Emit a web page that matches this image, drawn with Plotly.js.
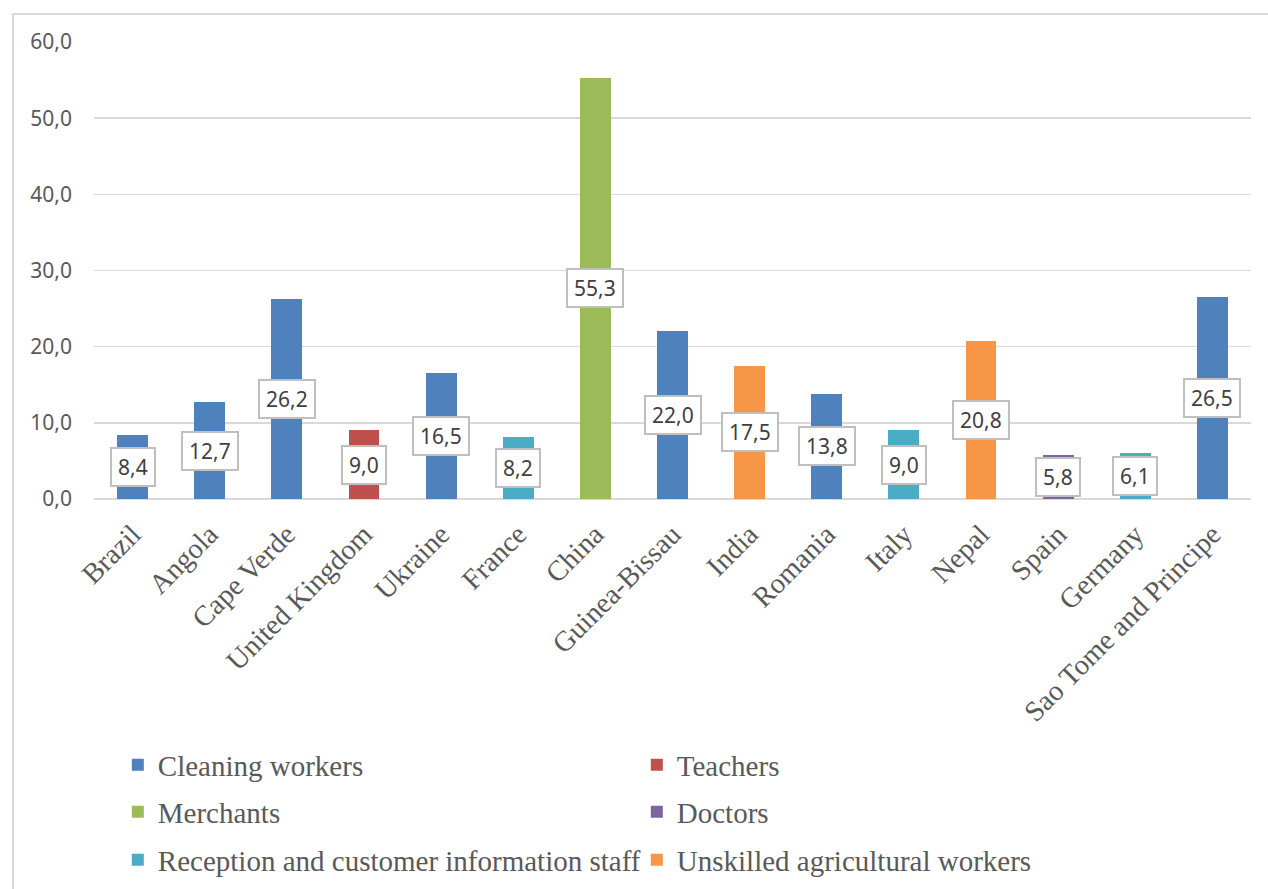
<!DOCTYPE html>
<html>
<head>
<meta charset="utf-8">
<script src="https://cdn.plot.ly/plotly-3.0.1.min.js"></script>
<style>
  html, body { margin: 0; padding: 0; background: #ffffff; }
  #wrap { position: relative; width: 1268px; height: 889px; overflow: hidden; }
  #frame { position: absolute; left: 12px; top: 13px; width: 1300px; height: 1000px;
           border: 2px solid #d9d9d9; box-sizing: border-box; pointer-events: none; }
  #chart { position: absolute; left: 0; top: 0; width: 1268px; height: 889px; }
</style>
</head>
<body>
<div id="wrap">
  <div id="chart"></div>
  <div id="frame"></div>
</div>
<script>
// ---- data ----
const countries = ["Brazil", "Angola", "Cape Verde", "United Kingdom", "Ukraine", "France", "China",
  "Guinea-Bissau", "India", "Romania", "Italy", "Nepal", "Spain", "Germany", "Sao Tome and Principe"];
const values = [8.4, 12.7, 26.2, 9.0, 16.5, 8.2, 55.3, 22.0, 17.5, 13.8, 9.0, 20.8, 5.8, 6.1, 26.5];
// occupation index of each country (into occupations)
const occupationOf = [0, 0, 0, 1, 0, 4, 2, 0, 5, 0, 4, 5, 3, 4, 0];
const occupations = ["Cleaning workers", "Teachers", "Merchants", "Doctors",
  "Reception and customer information staff", "Unskilled agricultural workers"];
const colors = ["#4f81bd", "#c0504d", "#9bbb59", "#8064a2", "#4bacc6", "#f79646"];
const yTicks = [0, 10, 20, 30, 40, 50, 60];

// ---- traces ----
const legendIds = ["legend", "legend", "legend2", "legend2", "legend3", "legend3"];
const traces = occupations.map((name, k) => ({
  type: "bar",
  name: name,
  x: countries,
  y: values.map((v, i) => occupationOf[i] === k ? v : null),
  marker: { color: colors[k] },
  legend: legendIds[k],
  hoverinfo: "skip"
}));

const fmt = v => "\u200A" + v.toFixed(1).replace(".", ",") + "\u200A";
const annotations = countries.map((c, i) => ({
  x: c, y: values[i] / 2, xref: "x", yref: "y",
  text: fmt(values[i]), showarrow: false,
  font: { family: "Noto Sans, Open Sans, sans-serif", size: 21, color: "#404040" },
  bgcolor: "#ffffff", bordercolor: "#bfbfbf", borderwidth: 2, borderpad: 4
}));

const legendBase = {
  orientation: "h", xanchor: "left", yanchor: "middle",
  entrywidth: 474, entrywidthmode: "pixels",
  font: { family: "Liberation Serif, Times New Roman, serif", size: 29, color: "#595959" },
  bgcolor: "rgba(0,0,0,0)", itemclick: false, itemdoubleclick: false,
  traceorder: "normal"
};
const plotH = 889 - 42 - 390;
const ly = py => (889 - 390 - py) / plotH; // pixel y -> paper y
const lx = px => (px - 94.2) / 1156.5;

const layout = {
  width: 1268, height: 889,
  margin: { l: 94.2, r: 17.3, t: 42, b: 390, autoexpand: false },
  paper_bgcolor: "rgba(0,0,0,0)", plot_bgcolor: "rgba(0,0,0,0)",
  barmode: "stack", bargap: 0.6,
  separators: ", ",
  showlegend: true,
  hovermode: false,
  font: { family: "Noto Sans, sans-serif", color: "#595959" },
  xaxis: {
    type: "category", categoryorder: "array", categoryarray: countries,
    tickangle: -45, showgrid: false, zeroline: false, showline: false, ticks: "",
    tickfont: { family: "Liberation Serif, Times New Roman, serif", size: 28.5, color: "#595959" },
    ticklabelstandoff: 12, automargin: false, fixedrange: true
  },
  yaxis: {
    range: [0, 60], tickvals: yTicks, tickformat: ".1f",
    showgrid: true, gridcolor: "#d9d9d9", gridwidth: 1.5,
    zeroline: true, zerolinecolor: "#d9d9d9", zerolinewidth: 1.5,
    showline: false, ticks: "",
    tickfont: { family: "Noto Sans, Open Sans, sans-serif", size: 21, color: "#595959" },
    ticklabelstandoff: 21, automargin: false, fixedrange: true
  },
  legend: Object.assign({}, legendBase, { x: lx(118), y: ly(765) }),
  legend2: Object.assign({}, legendBase, { x: lx(118), y: ly(812) }),
  legend3: Object.assign({}, legendBase, { x: lx(118), y: ly(860) }),
  annotations: annotations
};

Plotly.newPlot("chart", traces, layout, { displayModeBar: false, staticPlot: true });
</script>
</body>
</html>
